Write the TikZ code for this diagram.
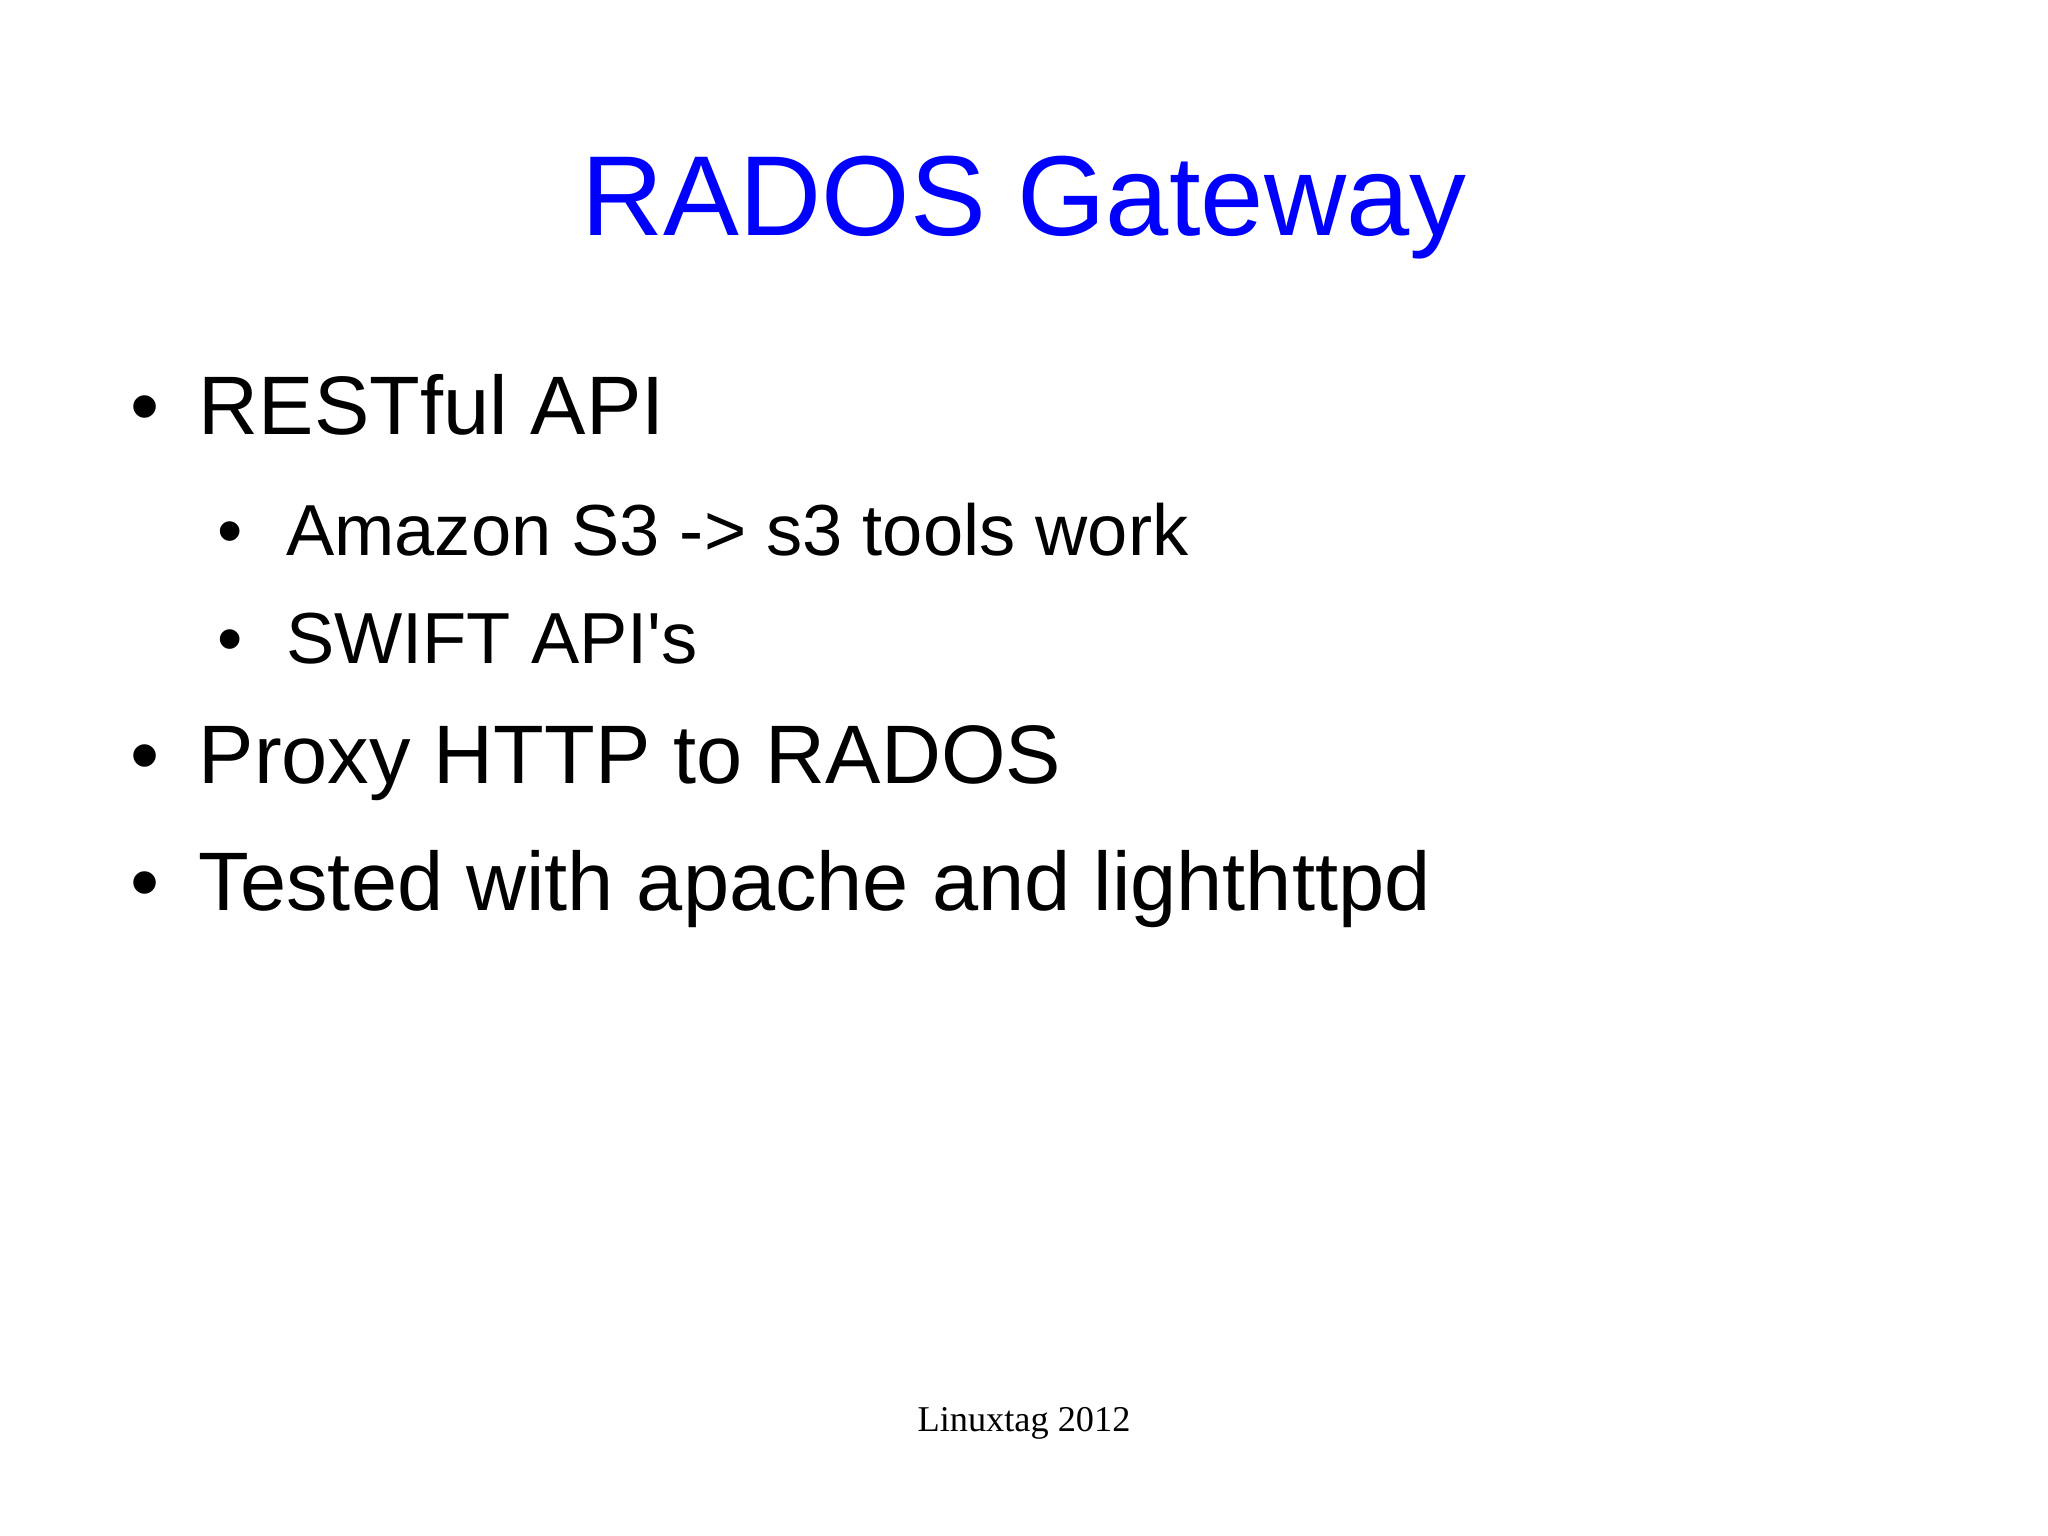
\documentclass[tikz,border=0pt]{standalone}
\usepackage{fontspec}
\setmainfont{Liberation Sans}
\newfontfamily\seriff{Liberation Serif}
\definecolor{titleblue}{RGB}{0,0,255}
\begin{document}
\begin{tikzpicture}[x=1.3061pt,y=-1.3061pt,
  lvlone/.style={anchor=base west,inner sep=0pt,font=\fontsize{83}{90}\selectfont},
  lvltwo/.style={anchor=base west,inner sep=0pt,font=\fontsize{72.3}{78}\selectfont}]
\useasboundingbox[fill=white] (0,0) rectangle (1568,1175.3);
\node[anchor=base,inner sep=0pt,text=titleblue,font=\fontsize{113.7}{120}\selectfont] (title) at (784,180) {RADOS Gateway};
\node[lvlone] (b1) at (100,333) {•};
\node[lvlone] (t1) at (152,333) {RESTful API};
\node[lvltwo] (b2) at (166,425) {•};
\node[lvltwo] (t2) at (219,425) {Amazon S3 -> s3 tools work};
\node[lvltwo] (b3) at (166,508) {•};
\node[lvltwo] (t3) at (219,508) {SWIFT API\textquotesingle s};
\node[lvlone] (b4) at (100,600) {•};
\node[lvlone] (t4) at (152,600) {Proxy HTTP to RADOS};
\node[lvlone] (b5) at (100,697) {•};
\node[lvlone] (t5) at (152,697) {Tested with apache and lighthttpd};
\node[anchor=base,inner sep=0pt,font=\seriff\fontsize{36.3}{40}\selectfont] (foot) at (784,1096) {Linuxtag 2012};
\end{tikzpicture}
\end{document}
